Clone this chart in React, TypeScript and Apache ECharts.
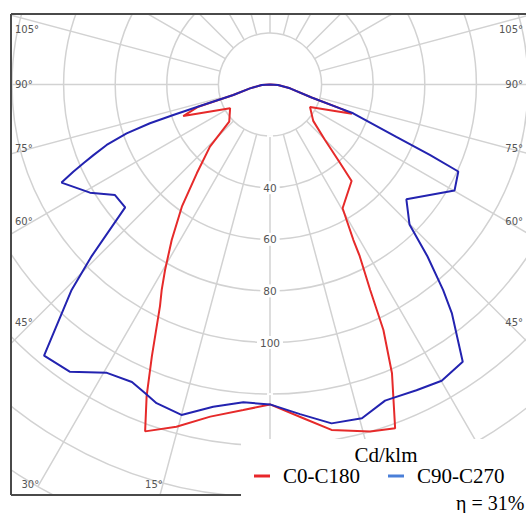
import React, { useEffect, useRef } from "react";
import * as echarts from "echarts";

// ---------- layout constants ----------
const W = 526;
const H = 513;
const CX = 270;
const CY = 84.5;
const PX_PER_UNIT = 2.58;
const GRID_MIN = 20;
const GRID_MAX = 180;
const RING_STEP = 20;
const RAY_STEP = 15;

// ---------- tick labels ----------
const radialLabels = [40, 60, 80, 100];
const sideAngleLabels = [105, 90, 75, 60, 45];
const bottomAngleLabels = [30, 15];

// ---------- data (gamma in degrees from nadir, value in cd/klm) ----------
// C0-C180 : left half
const redLeftGamma = [90, 86.6, 79, 74, 72.8, 70.0, 59.2, 47.6, 44.0, 39.5, 35.8, 32.3, 29.5, 27.8, 26.4, 23.5, 21.6, 19.8, 15.3, 10.2, 4.7, 0];
const redLeftValue = [0, 3.2, 7.9, 14.8, 29.1, 35.8, 18.0, 21.4, 33.5, 44.6, 58.4, 71.3, 82.6, 90.0, 95.9, 114.8, 129.9, 142.9, 137.5, 130.8, 126.6, 124];
// C0-C180 : right half
const redRightGamma = [90, 86.4, 79.2, 72.6, 71.2, 70.4, 60.6, 49.9, 44.7, 41.9, 40.2, 30.4, 28.2, 27.6, 26.0, 24.8, 22.9, 20.0, 16.1, 10.1, 5.7, 0];
const redRightValue = [0, 3.1, 7.9, 16.9, 28.7, 33.7, 17.8, 21.9, 30.3, 40.1, 49.0, 55.6, 68.4, 75.0, 88.6, 104.8, 121.5, 141.8, 140.0, 136.0, 130.0, 124];
// C90-C270 : left half
const blueLeftGamma = [90, 86.6, 79, 74.0, 72.9, 72.5, 72.1, 71.2, 69.7, 68.2, 67.1, 66.1, 64.8, 59.0, 54.5, 49.7, 46.1, 44.0, 39.8, 34.9, 29.5, 24.9, 22.0, 19.6, 15.0, 10.0, 4.8, 0];
const blueLeftValue = [0, 3.2, 7.9, 14.8, 28.4, 39.3, 48.9, 58.7, 67.5, 73.7, 78.5, 83.4, 89.3, 81.4, 73.8, 73.6, 95.9, 110.7, 136.8, 135.7, 128.4, 127.1, 129.1, 131.1, 132.6, 126.8, 123.6, 124];
// C90-C270 : right half
const blueRightGamma = [90, 86.4, 79.2, 72.6, 71.2, 70.9, 67.5, 66.2, 65.2, 60.1, 49.9, 44.9, 42.5, 40.1, 38.5, 34.8, 30.1, 25.6, 21.2, 20.0, 15.4, 10.3, 5.2, 0];
const blueRightValue = [0, 3.1, 7.9, 16.9, 28.7, 34.1, 53.0, 67.7, 80.4, 82.5, 69.1, 76.6, 90.3, 104.2, 113.2, 130.9, 132.7, 131.4, 130.5, 130.4, 134.2, 133.5, 128.3, 124];

const seriesNames = ["C0-C180", "C90-C270"];
const efficiencyText = "\u03b7 = 31%";
const unitText = "Cd/klm";

function buildCurve(lg: number[], lv: number[], rg: number[], rv: number[]) {
  const left = lg.map((g, i) => [lv[i], g]);
  const right = rg.map((g, i) => [rv[i], 360 - g]).reverse();
  return left.concat(right);
}

const LABEL_FONT = "DejaVu Sans, Verdana, sans-serif";
const SERIF = "Liberation Serif, Times New Roman, serif";

export default function App() {
  const ref = useRef<HTMLDivElement>(null);
  useEffect(() => {
    if (!ref.current) return;
    const chart = echarts.init(ref.current, undefined, { renderer: "svg" });

    const rad = (d: number) => (d * Math.PI) / 180;
    const angleTexts: any[] = [];
    sideAngleLabels.forEach((a) => {
      let y = CY + 238 * (Math.cos(rad(a)) / Math.sin(rad(a)));
      y = Math.max(y, 29);
      angleTexts.push({
        type: "text", z: 120, silent: true,
        style: { text: a + "\u00b0", x: 15, y, font: `10px ${LABEL_FONT}`, fill: "#555",
          textAlign: "left", textVerticalAlign: "middle", align: "left", verticalAlign: "middle" },
      });
      angleTexts.push({
        type: "text", z: 120, silent: true,
        style: { text: a + "\u00b0", x: 523, y, font: `10px ${LABEL_FONT}`, fill: "#555",
          textAlign: "right", textVerticalAlign: "middle", align: "right", verticalAlign: "middle" },
      });
    });
    bottomAngleLabels.forEach((a) => {
      const x = CX - (484 - CY) * Math.tan(rad(a)) - 9;
      angleTexts.push({
        type: "text", z: 120, silent: true,
        style: { text: a + "\u00b0", x, y: 484, font: `10px ${LABEL_FONT}`, fill: "#555",
          textAlign: "center", textVerticalAlign: "middle", align: "center", verticalAlign: "middle" },
      });
    });

    const mask = (x: number, y: number, w: number, h: number) => ({
      type: "rect", z: 100, silent: true, shape: { x, y, width: w, height: h }, style: { fill: "#fff" },
    });
    const border = (x1: number, y1: number, x2: number, y2: number) => ({
      type: "line", z: 110, silent: true, shape: { x1, y1, x2, y2 }, style: { stroke: "#4a4a4a", lineWidth: 2 },
    });

    const gridLine = { color: "#d2d2d2", width: 1.5 };

    chart.setOption({
      animation: false,
      polar: [
        { center: [CX, CY], radius: [GRID_MIN * PX_PER_UNIT, GRID_MAX * PX_PER_UNIT] },
        { center: [CX, CY], radius: [0, GRID_MAX * PX_PER_UNIT] },
      ],
      angleAxis: [
        {
          polarIndex: 0, type: "value", min: 0, max: 360, interval: RAY_STEP, startAngle: 270, clockwise: true,
          axisLine: { show: false }, axisTick: { show: false }, axisLabel: { show: false },
          splitLine: { show: true, lineStyle: gridLine }, z: 0,
        },
        { polarIndex: 1, type: "value", min: 0, max: 360, startAngle: 270, clockwise: true, show: false },
      ],
      radiusAxis: [
        {
          polarIndex: 0, type: "value", min: GRID_MIN, max: GRID_MAX, interval: RING_STEP,
          axisLine: { show: false }, axisTick: { show: false },
          splitLine: { show: true, lineStyle: gridLine },
          axisLabel: {
            show: true, margin: 0, align: "center", verticalAlign: "middle",
            formatter: (v: number) => (radialLabels.includes(v) ? String(v) : ""),
            color: "#555", fontSize: 10.5, fontFamily: LABEL_FONT,
            backgroundColor: "#fff", padding: [1, 3],
          },
          z: 1,
        },
        { polarIndex: 1, type: "value", min: 0, max: GRID_MAX, show: false },
      ],
      legend: {
        left: 254, top: 465, padding: 0, icon: "rect", itemWidth: 16, itemHeight: 3, itemGap: 28, z: 200,
        textStyle: { fontFamily: SERIF, fontSize: 21, lineHeight: 22, color: "#000", padding: [0, 0, 0, 8] },
        data: [
          { name: seriesNames[0], itemStyle: { color: "#e8262a" } },
          { name: seriesNames[1], itemStyle: { color: "#4a7fd8" } },
        ],
      },
      series: [
        {
          type: "line", name: seriesNames[0], coordinateSystem: "polar", polarIndex: 1,
          data: buildCurve(redLeftGamma, redLeftValue, redRightGamma, redRightValue),
          symbol: "none", showSymbol: false, lineStyle: { color: "#e62a2a", width: 2 },
          itemStyle: { color: "#e62a2a" }, z: 3,
        },
        {
          type: "line", name: seriesNames[1], coordinateSystem: "polar", polarIndex: 1,
          data: buildCurve(blueLeftGamma, blueLeftValue, blueRightGamma, blueRightValue),
          symbol: "none", showSymbol: false, lineStyle: { color: "#2323b0", width: 2 },
          itemStyle: { color: "#2323b0" }, z: 4,
        },
      ],
      graphic: {
        elements: [
          mask(0, 0, W, 13),
          mask(0, 0, 10, H),
          mask(0, 496, W, H - 496),
          mask(241, 439, W - 241, H - 439),
          border(11, 14, W, 14),
          border(11, 14, 11, 495),
          border(11, 495, 241, 495),
          ...angleTexts,
          {
            type: "text", z: 150, silent: true,
            style: { text: unitText, x: 386, y: 455, font: `21px ${SERIF}`, fill: "#000",
              textAlign: "center", textVerticalAlign: "middle", align: "center", verticalAlign: "middle" },
          },
          {
            type: "text", z: 150, silent: true,
            style: { text: efficiencyText, x: 456, y: 503, font: `20px ${SERIF}`, lineHeight: 18, fill: "#000",
              textAlign: "left", textVerticalAlign: "middle", align: "left", verticalAlign: "middle" },
          },
        ],
      },
    });
    return () => chart.dispose();
  }, []);
  return <div ref={ref} style={{ position: "absolute", left: 0, top: 0, width: W, height: H }} />;
}
